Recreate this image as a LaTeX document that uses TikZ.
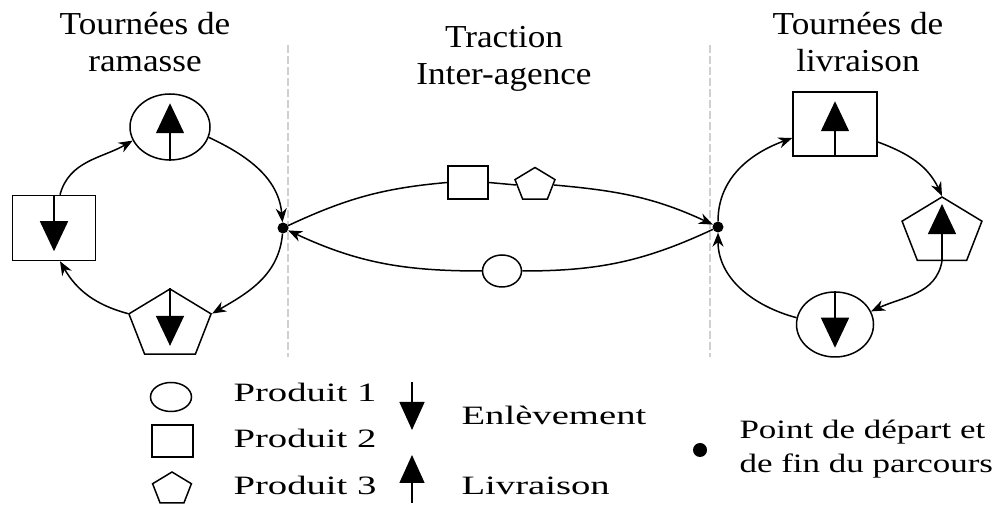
\documentclass[tikz,border=0pt]{standalone}
\usepackage{fontspec}
\setmainfont{Liberation Serif}[FakeStretch=1.1]
\newfontfamily\legendfont{Liberation Serif}[FakeStretch=1.46]
\newfontfamily\depotfont{Liberation Serif}[FakeStretch=1.32]
\usetikzlibrary{arrows.meta,shapes.geometric}
\definecolor{sepgray}{RGB}{208,208,208}
\tikzset{
  prodone/.style={ellipse,draw,line width=1.5pt,inner sep=0pt},
  prodtwo/.style={rectangle,draw,line width=1.5pt,inner sep=0pt},
  prodthree/.style={regular polygon,regular polygon sides=5,draw,line width=1.5pt,
    inner sep=0pt,xscale=1.2},
  depot/.style={circle,fill=black,inner sep=0pt,minimum size=11pt},
  flow/.style={-{Stealth[length=14pt,width=11pt]},line width=1.5pt},
  link/.style={line width=1.5pt},
  move/.style={-{Triangle[length=30pt,width=28pt]},line width=1.5pt},
  legmove/.style={-{Triangle[length=28pt,width=25pt]},line width=1.5pt},
  sep/.style={draw=sepgray,line width=2.5pt,dash pattern=on 8pt off 3pt},
  title/.style={font=\fontsize{32}{37}\selectfont,align=center},
  legtext/.style={font=\legendfont\fontsize{26.5}{34}\selectfont,anchor=base west},
}

\begin{document}
\begin{tikzpicture}[x=1pt,y=1pt]
  \useasboundingbox (0,0) rectangle (1003,505);

  \node[title] (ttramasse) at (145,462.5) {Tournées de\\ramasse};
  \node[title] (tttraction) at (504,446.5) {Traction\\Inter-agence};
  \node[title] (ttlivraison) at (858,462.5) {Tournées de\\livraison};

  \draw[sep] (288,460) -- (288,148);
  \draw[sep] (710,460) -- (710,148);

  % tournees de ramasse
  \node[prodone,minimum width=80pt,minimum height=66pt] (c1L) at (170,378) {};
  \node[prodtwo,minimum width=83pt,minimum height=65pt] (sqL) at (54,277) {};
  \node[prodthree,minimum size=72pt] (peL) at (170,180) {};
  \node[depot] (dotL) at (283,277) {};

  % tournees de livraison
  \node[prodtwo,minimum width=84pt,minimum height=64pt] (sqR) at (835,381) {};
  \node[prodthree,minimum size=70pt] (peR) at (942,273) {};
  \node[prodone,minimum width=77pt,minimum height=65pt] (c1R) at (835,180.5) {};
  \node[depot] (dotR) at (718,278) {};

  % traction
  \node[prodtwo,minimum width=40pt,minimum height=33pt] (sqM) at (468,322.5) {};
  \node[prodthree,minimum size=35pt] (peM) at (535,320) {};
  \node[prodone,minimum width=39pt,minimum height=32pt] (c1M) at (502,234) {};

  \draw[move] (c1L.south) -- ([yshift=-10pt]c1L.north);
  \draw[move] (sqL.north) -- ([yshift=10pt]sqL.south);
  \draw[move] (peL.corner 1) -- ([yshift=9pt]peL.south);
  \draw[move] (sqR.south) -- ([yshift=-10pt]sqR.north);
  \draw[move] (peR.south) -- ([yshift=-8pt]peR.corner 1);
  \draw[move] (c1R.north) -- ([yshift=10pt]c1R.south);

  \draw[flow] ([xshift=6pt]sqL.north) to[out=75,in=210] (c1L.200);
  \draw[flow] (c1L.-15) to[out=-25,in=95] (dotL);
  \draw[flow] (dotL) to[out=-95,in=30] (peL.corner 5);
  \draw[flow] (peL.corner 2) to[out=165,in=-60] ([xshift=6pt]sqL.south);

  \draw[flow] (dotR) to[out=90,in=200] ([yshift=-14pt]sqR.west);
  \draw[flow] ([yshift=-18pt]sqR.east) to[out=-20,in=115] (peR.corner 1);
  \draw[flow] (peR.south) to[out=-100,in=25] (c1R.20);
  \draw[flow] (c1R.170) to[out=165,in=-90] (dotR);

  \draw[link] (dotL) to[out=25,in=185] (sqM.west);
  \draw[link] (sqM.east) -- (peM.west);
  \draw[flow] (peM.east) to[out=-5,in=155] (dotR);
  \draw[link] (dotR) to[out=-155,in=0] (c1M.east);
  \draw[flow] (c1M.west) to[out=180,in=-25] (dotL);

  % legende
  \node[prodone,minimum width=41pt,minimum height=29pt] (lgone) at (171,108) {};
  \node[prodtwo,minimum width=41pt,minimum height=32pt] (lgtwo) at (172.5,64) {};
  \node[prodthree,minimum size=34pt] (lgthree) at (172,16) {};
  \node[legtext] (txone) at (230,103) {Produit 1};
  \node[legtext] (txtwo) at (230,57) {Produit 2};
  \node[legtext] (txthree) at (230,10) {Produit 3};

  \coordinate (enl) at (412,123);
  \coordinate (liv) at (412,2);
  \draw[legmove] (enl) -- ++(0,-48);
  \draw[legmove] (liv) -- ++(0,48);
  \node[legtext] (txenl) at (458,80) {Enlèvement};
  \node[legtext] (txliv) at (458,10) {Livraison};

  \node[depot,minimum size=14pt] (lgdot) at (700,55) {};
  \node[legtext,anchor=west,align=left,font=\depotfont\fontsize{26.5}{34}\selectfont]
    (txdot) at (736,56) {Point de départ et\\de fin du parcours};
\end{tikzpicture}
\end{document}
